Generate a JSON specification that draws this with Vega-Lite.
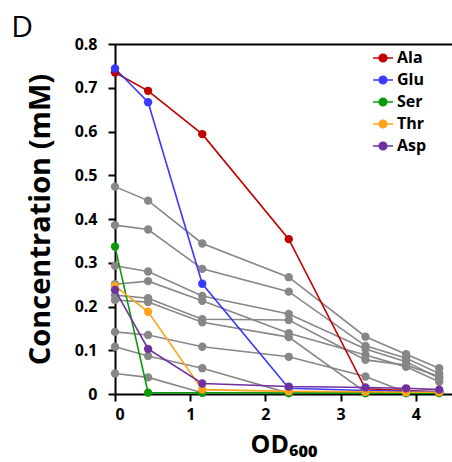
{
  "$schema": "https://vega.github.io/schema/vega-lite/v6.json",
  "width": 452,
  "height": 462,
  "autosize": {"type": "fit", "contains": "padding"},
  "padding": {"left": 11, "right": 0, "top": 13, "bottom": 5},
  "title": {"text": "D", "anchor": "start", "frame": "bounds", "fontSize": 30, "fontWeight": "normal", "font": "Open Sans", "color": "black", "dx": -15, "dy": 7, "offset": 0},
  "datasets": {
    "conc": [
      {"s":"G1","x":0,"y":0.474},{"s":"G1","x":0.44,"y":0.442},{"s":"G1","x":1.16,"y":0.344},{"s":"G1","x":2.31,"y":0.267},{"s":"G1","x":3.33,"y":0.131},{"s":"G1","x":3.87,"y":0.091},{"s":"G1","x":4.31,"y":0.059},
      {"s":"G2","x":0,"y":0.386},{"s":"G2","x":0.44,"y":0.376},{"s":"G2","x":1.16,"y":0.286},{"s":"G2","x":2.31,"y":0.234},{"s":"G2","x":3.33,"y":0.11},{"s":"G2","x":3.87,"y":0.082},{"s":"G2","x":4.31,"y":0.047},
      {"s":"G3","x":0,"y":0.293},{"s":"G3","x":0.44,"y":0.28},{"s":"G3","x":1.16,"y":0.224},{"s":"G3","x":2.31,"y":0.183},{"s":"G3","x":3.33,"y":0.103},{"s":"G3","x":3.87,"y":0.074},{"s":"G3","x":4.31,"y":0.036},
      {"s":"G4","x":0,"y":0.251},{"s":"G4","x":0.44,"y":0.258},{"s":"G4","x":1.16,"y":0.213},{"s":"G4","x":2.31,"y":0.139},{"s":"G4","x":3.33,"y":0.089},{"s":"G4","x":3.87,"y":0.062},{"s":"G4","x":4.31,"y":0.028},
      {"s":"G5","x":0,"y":0.226},{"s":"G5","x":0.44,"y":0.219},{"s":"G5","x":1.16,"y":0.171},{"s":"G5","x":2.31,"y":0.169},{"s":"G5","x":3.33,"y":0.078},{"s":"G5","x":3.87,"y":0.066},{"s":"G5","x":4.31,"y":0.04},
      {"s":"G6","x":0,"y":0.215},{"s":"G6","x":0.44,"y":0.21},{"s":"G6","x":1.16,"y":0.164},{"s":"G6","x":2.31,"y":0.13},{"s":"G6","x":3.33,"y":0.004},{"s":"G6","x":3.87,"y":0.003},{"s":"G6","x":4.31,"y":0.003},
      {"s":"G7","x":0,"y":0.142},{"s":"G7","x":0.44,"y":0.135},{"s":"G7","x":1.16,"y":0.108},{"s":"G7","x":2.31,"y":0.085},{"s":"G7","x":3.33,"y":0.04},{"s":"G7","x":3.87,"y":0.004},{"s":"G7","x":4.31,"y":0.004},
      {"s":"G8","x":0,"y":0.108},{"s":"G8","x":0.44,"y":0.087},{"s":"G8","x":1.16,"y":0.059},{"s":"G8","x":2.31,"y":0.002},{"s":"G8","x":3.33,"y":0.002},{"s":"G8","x":3.87,"y":0.002},{"s":"G8","x":4.31,"y":0.002},
      {"s":"G9","x":0,"y":0.047},{"s":"G9","x":0.44,"y":0.038},{"s":"G9","x":1.16,"y":0.003},{"s":"G9","x":2.31,"y":0.002},{"s":"G9","x":3.33,"y":0.002},{"s":"G9","x":3.87,"y":0.002},{"s":"G9","x":4.31,"y":0.002}
    ],
    "key": [
      {"s":"Ala","x":0,"y":0.735},{"s":"Ala","x":0.44,"y":0.693},{"s":"Ala","x":1.16,"y":0.594},{"s":"Ala","x":2.31,"y":0.354},{"s":"Ala","x":3.33,"y":0.012},{"s":"Ala","x":3.87,"y":0.008},{"s":"Ala","x":4.31,"y":0.005},
      {"s":"Glu","x":0,"y":0.744},{"s":"Glu","x":0.44,"y":0.667},{"s":"Glu","x":1.16,"y":0.252},{"s":"Glu","x":2.31,"y":0.013},{"s":"Glu","x":3.33,"y":0.008},{"s":"Glu","x":3.87,"y":0.006},{"s":"Glu","x":4.31,"y":0.005},
      {"s":"Ser","x":0,"y":0.337},{"s":"Ser","x":0.44,"y":0.003},{"s":"Ser","x":1.16,"y":0.003},{"s":"Ser","x":2.31,"y":0.002},{"s":"Ser","x":3.33,"y":0.002},{"s":"Ser","x":3.87,"y":0.002},{"s":"Ser","x":4.31,"y":0.002},
      {"s":"Thr","x":0,"y":0.247},{"s":"Thr","x":0.44,"y":0.188},{"s":"Thr","x":1.16,"y":0.01},{"s":"Thr","x":2.31,"y":0.006},{"s":"Thr","x":3.33,"y":0.005},{"s":"Thr","x":3.87,"y":0.004},{"s":"Thr","x":4.31,"y":0.004},
      {"s":"Asp","x":0,"y":0.238},{"s":"Asp","x":0.44,"y":0.103},{"s":"Asp","x":1.16,"y":0.024},{"s":"Asp","x":2.31,"y":0.017},{"s":"Asp","x":3.33,"y":0.015},{"s":"Asp","x":3.87,"y":0.013},{"s":"Asp","x":4.31,"y":0.01}
    ]
  },
  "layer": [
    {"data": {"name": "conc"},
     "mark": {"type": "line", "color": "#878787", "strokeWidth": 1.6, "point": {"filled": true, "size": 70, "color": "#878787", "opacity": 1}},
     "encoding": {
       "x": {"field": "x", "type": "quantitative", "scale": {"domain": [0, 4.48], "nice": false, "zero": false},
         "axis": {"values": [0,1,2,3,4], "format": "d", "title": "OD₆₀₀", "titleFontSize": 25, "titlePadding": 10, "labelPadding": 5}},
       "y": {"field": "y", "type": "quantitative", "scale": {"domain": [0, 0.8], "nice": false},
         "axis": {"values": [0,0.1,0.2,0.3,0.4,0.5,0.6,0.7,0.8], "labelExpr": "datum.value == 0 ? '0' : format(datum.value, '.1f')", "title": "Concentration (mM)", "titleFontSize": 29, "titlePadding": 19, "labelPadding": 11}},
       "detail": {"field": "s"}}},
    {"data": {"name": "key"},
     "mark": {"type": "line", "strokeWidth": 1.6, "point": {"filled": true, "size": 70, "opacity": 1}},
     "encoding": {
       "x": {"field": "x", "type": "quantitative", "axis": {"orient": "top", "labels": false, "ticks": false, "title": null, "domain": true, "domainColor": "black", "domainWidth": 2}},
       "y": {"field": "y", "type": "quantitative"},
       "color": {"field": "s", "type": "nominal",
       "scale": {"domain": ["Ala","Glu","Ser","Thr","Asp"], "range": ["#c00000","#3a3aff","#0a9a0a","#ffa31a","#7030a0"]},
       "legend": {"title": null, "orient": "none", "legendX": 257, "legendY": 3,
         "symbolType": "M-1,0L1,0M0.38,0A0.38,0.38,0,1,1,-0.38,0A0.38,0.38,0,1,1,0.38,0Z",
         "symbolSize": 400, "symbolStrokeWidth": 1.6, "labelFontSize": 16, "labelFontWeight": "bold", "labelColor": "black", "labelOffset": 3, "rowPadding": 3, "labelFont": "Open Sans",
         "encode": {"symbols": {"update": {"fill": {"scale": "color", "field": "value"}, "stroke": {"scale": "color", "field": "value"}, "opacity": {"value": 1}}}}}}}}
  ],
  "resolve": {"axis": {"x": "independent"}},
  "config": {
    "view": {"stroke": null},
    "font": "Open Sans",
    "axis": {"grid": false, "domainColor": "black", "domainWidth": 2, "tickColor": "black", "tickWidth": 2, "tickSize": 7,
      "labelFont": "Open Sans", "labelFontSize": 16, "labelFontWeight": "bold", "labelColor": "black",
      "titleFont": "Open Sans", "titleFontWeight": "bold", "titleColor": "black"}
  }
}
